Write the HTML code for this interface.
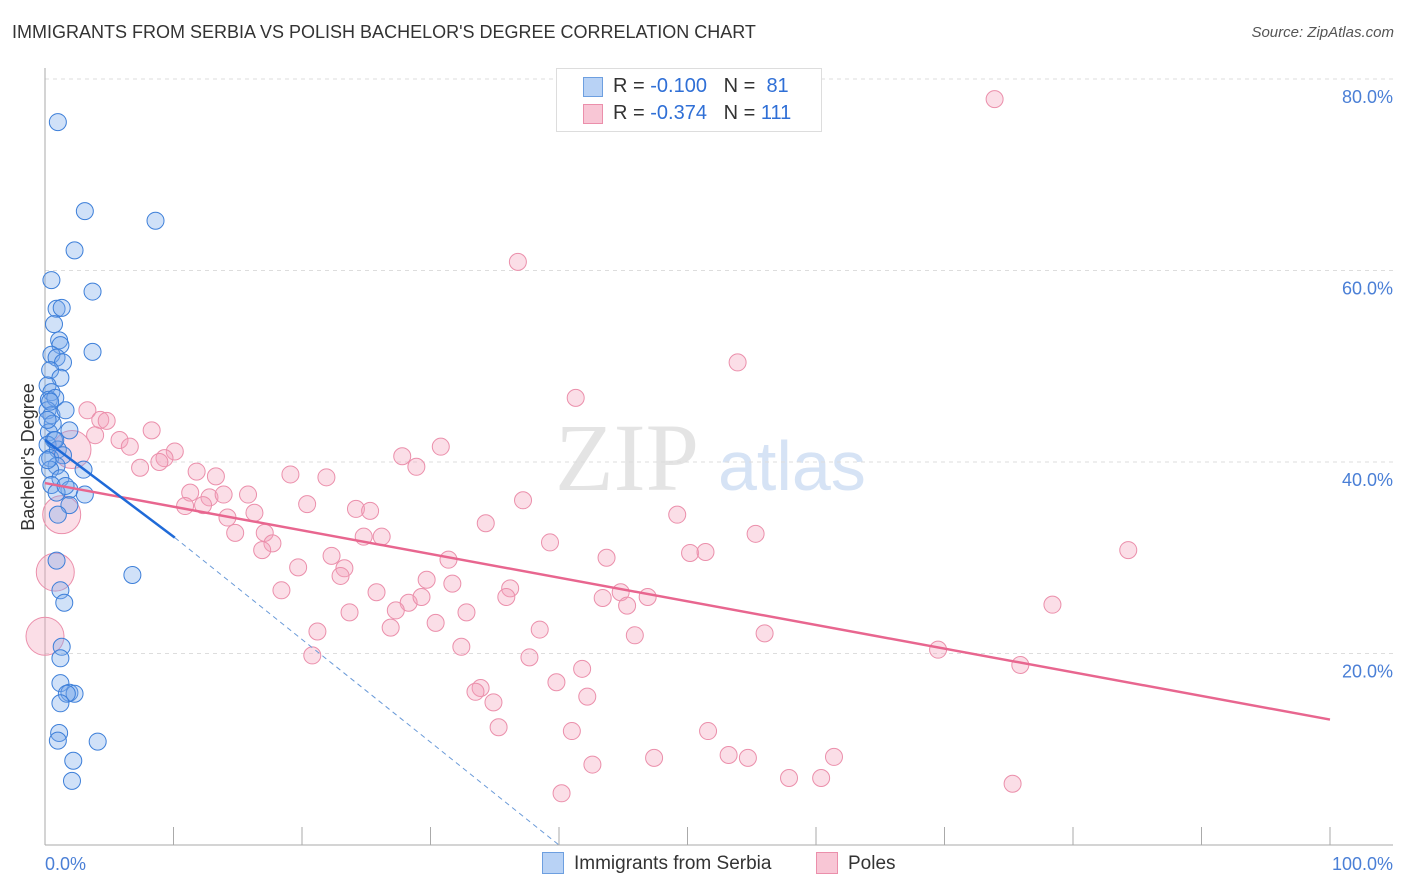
<!DOCTYPE html>
<html><head><meta charset="utf-8"><style>
body{margin:0;background:#fff;font-family:"Liberation Sans",sans-serif;}
#wrap{position:relative;width:1406px;height:892px;overflow:hidden;}
.t{position:absolute;white-space:nowrap;}
</style></head><body>
<div id="wrap">
<div class="t" style="left:12px;top:22px;font-size:18px;color:#333;">IMMIGRANTS FROM SERBIA VS POLISH BACHELOR'S DEGREE CORRELATION CHART</div>
<div class="t" style="right:12px;top:24px;font-size:15px;color:#555;font-style:italic;">Source: ZipAtlas.com</div>
<svg id="svg" width="1406" height="892" style="position:absolute;left:0;top:0"></svg>
</div>
<script>
const xTicksPct=[0,10,20,30,40,50,60,70,80,90,100];
const yTicksPct=[20,40,60,80];
const blueX=[1.0,3.1,8.6,2.3,0.5,3.7,0.9,1.3,0.7,1.1,1.2,3.7,0.5,0.9,1.4,0.4,1.2,0.2,0.5,0.3,0.8,0.2,0.5,1.6,0.6,0.3,1.9,0.7,0.2,1.0,0.4,1.4,0.9,0.4,3.0,1.2,0.5,1.9,0.9,3.1,1.9,1.0,6.8,0.9,1.2,1.5,1.3,1.2,1.2,1.9,2.3,1.7,1.2,1.1,4.1,1.0,2.2,2.1,0.2,0.4,0.8,0.2,1.6];
const blueY=[75.5,66.2,65.2,62.1,59.0,57.8,56.0,56.1,54.4,52.7,52.2,51.5,51.2,50.9,50.4,49.6,48.8,48.0,47.3,46.5,46.7,45.4,44.9,45.4,44.0,43.1,43.3,42.3,41.8,41.3,40.4,40.7,39.6,39.2,39.2,38.3,37.6,37.1,36.8,36.6,35.5,34.5,28.2,29.7,26.6,25.3,20.7,19.5,16.9,15.9,15.8,15.8,14.8,11.7,10.8,10.9,8.8,6.7,44.4,46.3,42.3,40.2,37.5];
const pinkX=[73.9,36.8,53.9,41.3,3.3,4.3,4.8,30.8,8.3,3.9,5.8,6.6,10.1,9.3,27.8,28.9,7.4,8.9,11.8,13.3,19.1,21.9,11.3,12.8,13.9,15.8,37.2,10.9,12.3,20.4,24.2,25.3,14.2,16.3,34.3,49.2,14.8,17.1,17.7,16.9,55.3,39.3,22.3,24.8,26.2,43.7,50.2,51.4,84.3,19.7,23.3,23.0,31.4,29.7,31.7,18.4,25.8,36.2,44.8,46.9,43.4,45.3,35.9,28.3,29.3,27.3,32.8,23.7,78.4,21.2,30.4,26.9,38.5,45.9,56.0,32.4,20.8,37.7,69.5,75.9,41.8,39.8,33.9,33.5,42.2,34.9,35.3,41.0,51.6,53.2,54.7,47.4,61.4,42.6,57.9,60.4,75.3,40.2];
const pinkY=[77.9,60.9,50.4,46.7,45.4,44.4,44.3,41.6,43.3,42.8,42.3,41.6,41.1,40.4,40.6,39.5,39.4,40.0,39.0,38.5,38.7,38.4,36.8,36.3,36.6,36.6,36.0,35.4,35.5,35.6,35.1,34.9,34.2,34.7,33.6,34.5,32.6,32.6,31.5,30.8,32.5,31.6,30.2,32.2,32.2,30.0,30.5,30.6,30.8,29.0,28.9,28.1,29.8,27.7,27.3,26.6,26.4,26.8,26.4,25.9,25.8,25.0,25.9,25.3,25.9,24.5,24.3,24.3,25.1,22.3,23.2,22.7,22.5,21.9,22.1,20.7,19.8,19.6,20.4,18.8,18.4,17.0,16.4,16.0,15.5,14.9,12.3,11.9,11.9,9.4,9.1,9.1,9.2,8.4,7.0,7.0,6.4,5.4];
const bigPinkX=[1.3,0.8,0,2.1];
const bigPinkY=[34.5,28.5,21.8,41.3];
const blueTrend=[0,42.3,10.1,32.1,40,0];
const pinkTrend=[0,37.8,100,13.1];
const X=v=>45+v*12.85, Y=v=>845-v*9.575;
const svg=document.getElementById('svg');
const NS='http://www.w3.org/2000/svg';
function mk(t,a){const e=document.createElementNS(NS,t);for(const k in a)e.setAttribute(k,a[k]);svg.appendChild(e);return e;}
// watermark
let w=mk('text',{x:555,y:490,'font-size':96,fill:'#e4e4e4','font-family':'Liberation Serif, serif'});w.textContent='ZIP';


w=mk('text',{x:718,y:490,'font-size':70,fill:'#d6e3f5','font-family':'Liberation Sans, sans-serif'});w.textContent='atlas';


yTicksPct.forEach(v=>{
 const l=mk('line',{x1:45,x2:1393,y1:Y(v),y2:Y(v),stroke:'#ddd','stroke-dasharray':'4,4'});
 
 
 const t=mk('text',{x:1393,y:Y(v)+24,'text-anchor':'end','font-size':18,fill:'#4a7fd6','font-family':'Liberation Sans, sans-serif'});t.textContent=v.toFixed(1)+'%';
 
 
});
let ax=mk('line',{x1:45,x2:45,y1:68,y2:845,stroke:'#aaa'});


ax=mk('line',{x1:45,x2:1393,y1:845,y2:845,stroke:'#aaa'});


xTicksPct.forEach(v=>{const l=mk('line',{x1:X(v),x2:X(v),y1:827,y2:845,stroke:'#aaa'});
 
 });
let t=mk('text',{x:45,y:870,'font-size':18,fill:'#4a7fd6','font-family':'Liberation Sans, sans-serif'});t.textContent='0.0%';


t=mk('text',{x:1393,y:870,'text-anchor':'end','font-size':18,fill:'#4a7fd6','font-family':'Liberation Sans, sans-serif'});t.textContent='100.0%';


t=mk('text',{x:34,y:457,'text-anchor':'middle','font-size':18,fill:'#333',transform:'rotate(-90 34 457)','font-family':'Liberation Sans, sans-serif'});t.textContent="Bachelor's Degree";


pinkX.forEach((v,i)=>{const c=mk('circle',{cx:X(v),cy:Y(pinkY[i]),r:8.5,fill:'rgba(244,160,185,0.35)',stroke:'#eb8fab','stroke-width':1});
 
 });
bigPinkX.forEach((v,i)=>{const c=mk('circle',{cx:X(v),cy:Y(bigPinkY[i]),r:19,fill:'rgba(244,160,185,0.35)',stroke:'#eb8fab','stroke-width':1});
 
 });
blueX.forEach((v,i)=>{const c=mk('circle',{cx:X(v),cy:Y(blueY[i]),r:8.5,fill:'rgba(120,170,235,0.35)',stroke:'#3d7fd9','stroke-width':1});
 
 });
let ln=mk('line',{x1:X(pinkTrend[0]),y1:Y(pinkTrend[1]),x2:X(pinkTrend[2]),y2:Y(pinkTrend[3]),stroke:'#e8668f','stroke-width':2.5});


ln=mk('line',{x1:X(blueTrend[0]),y1:Y(blueTrend[1]),x2:X(blueTrend[2]),y2:Y(blueTrend[3]),stroke:'#1f6ad8','stroke-width':2.5});


ln=mk('line',{x1:X(blueTrend[2]),y1:Y(blueTrend[3]),x2:X(blueTrend[4]),y2:Y(blueTrend[5]),stroke:'#6a9ad8','stroke-width':1,'stroke-dasharray':'5,4'});


</script>
<div class="t" style="left:556px;top:68px;width:264px;height:62px;border:1px solid #ddd;background:#fff;">
 <div style="position:absolute;left:26px;top:8px;width:18px;height:18px;background:#b8d2f5;border:1px solid #6d9fe0;"></div>
 <div class="t" style="left:56px;top:6px;font-size:20px;color:#333;">R = <span style="color:#2f6fd6">-0.100</span>&nbsp;&nbsp;&nbsp;N = &nbsp;<span style="color:#2f6fd6">81</span></div>
 <div style="position:absolute;left:26px;top:35px;width:18px;height:18px;background:#f8c6d5;border:1px solid #eb8fab;"></div>
 <div class="t" style="left:56px;top:33px;font-size:20px;color:#333;">R = <span style="color:#2f6fd6">-0.374</span>&nbsp;&nbsp;&nbsp;N = <span style="color:#2f6fd6">111</span></div>
</div>
<div class="t" style="left:542px;top:852px;width:22px;height:22px;background:#b8d2f5;border:1px solid #6d9fe0;box-sizing:border-box;"></div>
<div class="t" style="left:574px;top:853px;font-size:19px;color:#333;">Immigrants from Serbia</div>
<div class="t" style="left:816px;top:852px;width:22px;height:22px;background:#f8c6d5;border:1px solid #eb8fab;box-sizing:border-box;"></div>
<div class="t" style="left:848px;top:853px;font-size:19px;color:#333;">Poles</div>
</body></html>
